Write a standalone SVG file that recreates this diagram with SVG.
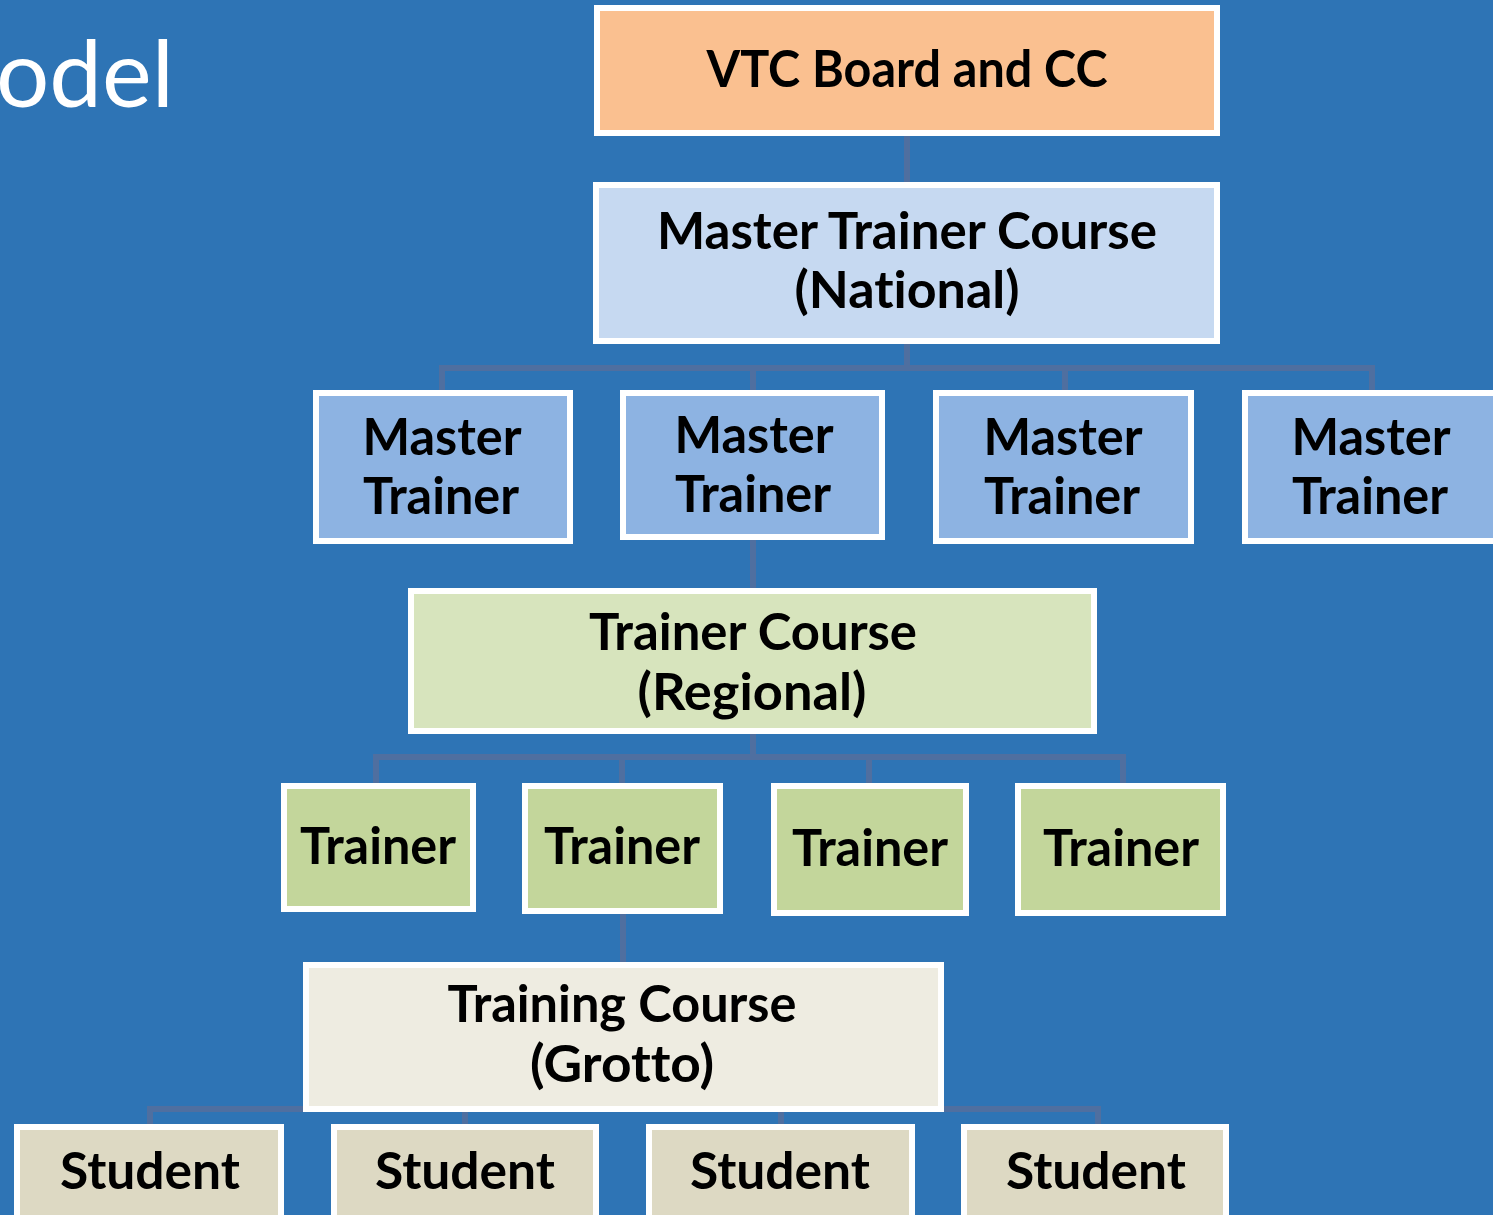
<svg xmlns="http://www.w3.org/2000/svg" width="1493" height="1215" viewBox="0 0 1493 1215">
<style>
.bg{fill:#2E74B5}
.box{stroke:#FFFFFF;stroke-width:6}
.conn{fill:none;stroke:#4F6FA0;stroke-width:6}
.lbl{font-family:Lato,"Open Sans","Liberation Sans",sans-serif;font-weight:bold;font-size:52px;fill:#000000;text-anchor:middle;font-variant-ligatures:none;font-feature-settings:"liga" 0,"clig" 0}
.title{font-family:Lato,"Open Sans","Liberation Sans",sans-serif;font-size:94px;fill:#FFFFFF;text-anchor:end}
.vtc{fill:#FAC090}.mtc{fill:#C6D9F1}.mt{fill:#8DB3E2}.tc{fill:#D7E4BD}.tr{fill:#C3D69B}.gc{fill:#EEECE1}.st{fill:#DDD9C3}
</style>
<rect class="bg" x="0" y="0" width="1493" height="1215"/>
<text class="title" x="174" y="107" textLength="178" lengthAdjust="spacingAndGlyphs">odel</text>
<g id="connectors">
<path class="conn" d="M907 136V182"/>
<path class="conn" d="M907 344V368M442 392V368H1372V392M753 368V392M1065 368V392"/>
<path class="conn" d="M753 540V588"/>
<path class="conn" d="M753 734V757M376 784V757H1123V784M622 757V784M869 757V784"/>
<path class="conn" d="M623 914V962"/>
<path class="conn" d="M150 1125V1109H1098V1125M465 1109V1125M781 1109V1125"/>
</g>
<g id="vtc"><rect class="box vtc" x="597" y="8" width="620" height="125"/><text class="lbl" x="907" y="87" textLength="401" lengthAdjust="spacingAndGlyphs">VTC Board and CC</text></g>
<g id="mtc"><rect class="box mtc" x="596" y="185" width="621" height="156"/><text class="lbl" x="907" y="249" textLength="500" lengthAdjust="spacingAndGlyphs">Master Trainer Course</text><text class="lbl" x="907" y="308" textLength="225" lengthAdjust="spacingAndGlyphs">(National)</text></g>
<g id="mt1"><rect class="box mt" x="316" y="393" width="254" height="148"/><text class="lbl" x="442" y="455" textLength="159" lengthAdjust="spacingAndGlyphs">Master</text><text class="lbl" x="441" y="514" textLength="156" lengthAdjust="spacingAndGlyphs">Trainer</text></g>
<g id="mt2"><rect class="box mt" x="623" y="393" width="259" height="144"/><text class="lbl" x="754" y="453" textLength="159" lengthAdjust="spacingAndGlyphs">Master</text><text class="lbl" x="753" y="512" textLength="156" lengthAdjust="spacingAndGlyphs">Trainer</text></g>
<g id="mt3"><rect class="box mt" x="936" y="393" width="255" height="148"/><text class="lbl" x="1063" y="455" textLength="159" lengthAdjust="spacingAndGlyphs">Master</text><text class="lbl" x="1062" y="514" textLength="156" lengthAdjust="spacingAndGlyphs">Trainer</text></g>
<g id="mt4"><rect class="box mt" x="1245" y="393" width="260" height="148"/><text class="lbl" x="1371" y="455" textLength="159" lengthAdjust="spacingAndGlyphs">Master</text><text class="lbl" x="1370" y="514" textLength="156" lengthAdjust="spacingAndGlyphs">Trainer</text></g>
<g id="tcourse"><rect class="box tc" x="411" y="591" width="683" height="140"/><text class="lbl" x="753" y="650" textLength="328" lengthAdjust="spacingAndGlyphs">Trainer Course</text><text class="lbl" x="752" y="710" textLength="229" lengthAdjust="spacingAndGlyphs">(Regional)</text></g>
<g id="tr1"><rect class="box tr" x="284" y="786" width="189" height="123"/><text class="lbl" x="378" y="864" textLength="156" lengthAdjust="spacingAndGlyphs">Trainer</text></g>
<g id="tr2"><rect class="box tr" x="525" y="786" width="195" height="125"/><text class="lbl" x="622" y="864" textLength="156" lengthAdjust="spacingAndGlyphs">Trainer</text></g>
<g id="tr3"><rect class="box tr" x="774" y="786" width="192" height="127"/><text class="lbl" x="870" y="866" textLength="156" lengthAdjust="spacingAndGlyphs">Trainer</text></g>
<g id="tr4"><rect class="box tr" x="1018" y="786" width="205" height="127"/><text class="lbl" x="1121" y="866" textLength="156" lengthAdjust="spacingAndGlyphs">Trainer</text></g>
<g id="gcourse"><rect class="box gc" x="306" y="965" width="635" height="144"/><text class="lbl" x="622" y="1022" textLength="349" lengthAdjust="spacingAndGlyphs">Training Course</text><text class="lbl" x="622" y="1082" textLength="184" lengthAdjust="spacingAndGlyphs">(Grotto)</text></g>
<g id="st1"><rect class="box st" x="17" y="1127" width="264" height="100"/><text class="lbl" x="150" y="1189" textLength="180" lengthAdjust="spacingAndGlyphs">Student</text></g>
<g id="st2"><rect class="box st" x="334" y="1127" width="262" height="100"/><text class="lbl" x="465" y="1189" textLength="180" lengthAdjust="spacingAndGlyphs">Student</text></g>
<g id="st3"><rect class="box st" x="649" y="1127" width="263" height="100"/><text class="lbl" x="780" y="1189" textLength="180" lengthAdjust="spacingAndGlyphs">Student</text></g>
<g id="st4"><rect class="box st" x="964" y="1127" width="262" height="100"/><text class="lbl" x="1096" y="1189" textLength="180" lengthAdjust="spacingAndGlyphs">Student</text></g>
</svg>
